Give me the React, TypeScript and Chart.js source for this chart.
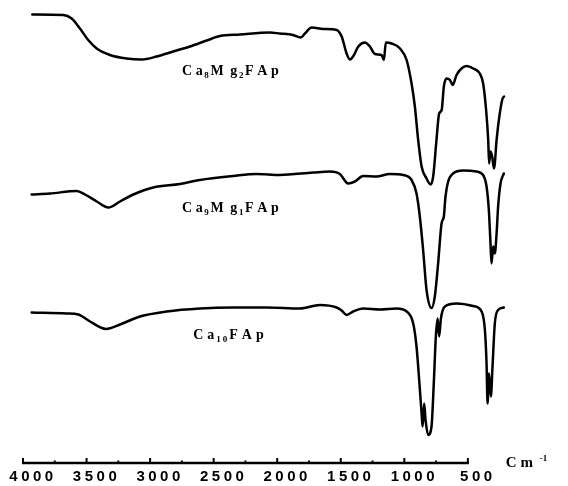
import React, { useEffect, useRef } from 'react';
import { Chart, registerables } from 'chart.js';

Chart.register(...registerables);

// x axis (wavenumber, cm-1)
const majorTicks = [4000, 3500, 3000, 2500, 2000, 1500, 1000, 500];
const tickLabels = ['4000', '3500', '3000', '2500', '2000', '1500', '1000', '500'];
const minorTicks = [3750, 3250, 2750, 2250, 1750, 1250, 750];

// Ca8Mg2FAp (top spectrum)
const mg2Wavenumber = [3927, 3683, 3617, 3552, 3487, 3420, 3316, 3185, 3066, 2948, 2818, 2687, 2555, 2451, 2294, 2057, 1979, 1876, 1815, 1782, 1729, 1638, 1533, 1493, 1454, 1428, 1403, 1362, 1310, 1271, 1231, 1179, 1161, 1145, 1100, 1034, 982, 943, 917, 891, 864, 825, 794, 773, 747, 726, 706, 689, 667, 641, 620, 589, 550, 510, 458, 406, 380, 359, 340, 333, 322, 309, 294, 274, 249, 227, 215];
const mg2Trans = [89.3, 89.2, 88.5, 86.5, 84.2, 82.5, 81.2, 80.5, 80.3, 80.9, 81.9, 82.9, 84.1, 85.0, 85.3, 85.7, 85.5, 85.2, 84.7, 85.5, 86.7, 86.4, 86.2, 84.9, 81.5, 80.3, 80.9, 82.9, 83.7, 82.9, 81.4, 81.2, 80.2, 83.7, 83.5, 82.5, 80.2, 75.5, 70.9, 64.2, 58.9, 56.5, 55.3, 56.9, 64.2, 69.5, 70.2, 74.9, 76.5, 76.2, 75.2, 77.2, 78.5, 79.0, 78.5, 77.5, 75.5, 70.9, 64.2, 59.5, 61.9, 60.9, 58.5, 64.2, 69.5, 72.5, 72.9];

// Ca9Mg1FAp (middle spectrum)
const mg1Wavenumber = [3932, 3788, 3578, 3512, 3420, 3329, 3237, 3132, 2975, 2765, 2608, 2346, 2162, 1979, 1717, 1585, 1507, 1442, 1389, 1324, 1218, 1114, 1009, 943, 904, 878, 852, 825, 786, 760, 734, 707, 689, 676, 655, 616, 537, 432, 380, 353, 335, 322, 314, 301, 288, 274, 262, 243, 217];
const mg1Trans = [53.3, 53.5, 54.0, 53.3, 51.9, 50.7, 51.9, 53.3, 54.7, 55.4, 56.2, 57.0, 57.4, 57.2, 57.7, 57.9, 57.4, 55.5, 55.9, 57.0, 56.9, 57.4, 57.2, 56.2, 53.5, 48.9, 42.2, 34.2, 30.6, 32.9, 39.5, 47.5, 48.9, 52.9, 55.9, 57.5, 58.1, 57.9, 57.2, 54.9, 50.2, 43.5, 39.5, 42.9, 41.5, 45.5, 50.9, 55.5, 57.5];

// Ca10FAp (bottom spectrum)
const ca10Wavenumber = [3932, 3656, 3565, 3473, 3347, 3237, 3080, 2870, 2608, 2346, 2083, 1821, 1664, 1533, 1493, 1454, 1402, 1324, 1192, 1061, 982, 930, 904, 883, 864, 856, 844, 833, 812, 786, 767, 752, 738, 726, 712, 681, 589, 458, 392, 366, 353, 345, 333, 319, 306, 288, 262, 217];
const ca10Trans = [29.7, 29.5, 29.3, 27.9, 26.4, 27.3, 28.9, 29.9, 30.5, 30.7, 30.7, 30.5, 31.2, 30.7, 30.1, 29.2, 29.9, 30.5, 30.3, 30.5, 29.9, 27.5, 22.9, 16.2, 9.5, 6.9, 11.5, 8.2, 5.2, 6.9, 16.2, 24.9, 28.5, 24.9, 28.5, 30.9, 31.5, 31.0, 29.9, 26.2, 19.5, 11.5, 17.5, 12.9, 18.9, 27.5, 30.2, 30.7];

// sample labels: [text, isSubscript, extra gap after]
const mg2Label: [string, boolean, number][] = [['C', false, 2], ['a', false, 0], ['8', true, 0], ['M', false, 0], [' ', false, 0], ['g', false, 0], ['2', true, 0], ['F', false, 2], ['A', false, 2], ['p', false, 0]];
const mg1Label: [string, boolean, number][] = [['C', false, 2], ['a', false, 0], ['9', true, 0], ['M', false, 0], [' ', false, 0], ['g', false, 0], ['1', true, 0], ['F', false, 2], ['A', false, 2], ['p', false, 0]];
const ca10Label: [string, boolean, number][] = [['C', false, 2], ['a', false, 0], ['1', true, 0], ['0', true, 0], ['F', false, 2], ['A', false, 2], ['p', false, 0]];
const labelAnchorX = [2749, 2749, 2661];
const labelAnchorY = [77.2, 49.9, 24.4];

const serif = '"Liberation Serif", "Times New Roman", serif';

function drawFormula(ctx: CanvasRenderingContext2D, parts: [string, boolean, number][], x: number, y: number, spacing: number) {
  let cx = x;
  for (const [t, sub, extra] of parts) {
    ctx.font = sub ? `bold 9px ${serif}` : `bold 14px ${serif}`;
    ctx.fillText(t, cx, sub ? y + 3 : y);
    cx += ctx.measureText(t).width + spacing + extra;
  }
}

const decorations = {
  id: 'ftirDecorations',
  beforeDraw(chart: any) {
    chart.ctx.letterSpacing = '3.5px';
  },
  beforeDatasetsDraw(chart: any) {
    chart.ctx.letterSpacing = '0px';
  },
  afterDraw(chart: any) {
    const ctx: CanvasRenderingContext2D = chart.ctx;
    const xs = chart.scales.x;
    const ys = chart.scales.y;
    const bottom = chart.chartArea.bottom;
    const axisStart = xs.getPixelForValue(majorTicks[0]);
    const axisEnd = xs.getPixelForValue(majorTicks[majorTicks.length - 1]);
    ctx.save();
    ctx.letterSpacing = '0px';
    ctx.strokeStyle = '#000';
    ctx.lineCap = 'butt';
    ctx.lineWidth = 2.5;
    ctx.beginPath();
    ctx.moveTo(axisStart - 1, bottom);
    ctx.lineTo(axisEnd + 1, bottom);
    ctx.stroke();
    ctx.lineWidth = 2;
    for (const v of majorTicks) {
      const px = xs.getPixelForValue(v);
      ctx.beginPath();
      ctx.moveTo(px, bottom);
      ctx.lineTo(px, bottom - 5);
      ctx.stroke();
    }
    for (const v of minorTicks) {
      const px = xs.getPixelForValue(v);
      ctx.beginPath();
      ctx.moveTo(px, bottom);
      ctx.lineTo(px, bottom - 2.5);
      ctx.stroke();
    }
    ctx.fillStyle = '#000';
    ctx.textBaseline = 'alphabetic';
    ctx.textAlign = 'left';
    const labels = [mg2Label, mg1Label, ca10Label];
    const spacings = [1.6, 1.6, 2.0];
    labels.forEach((parts, i) => {
      drawFormula(ctx, parts, xs.getPixelForValue(labelAnchorX[i]), ys.getPixelForValue(labelAnchorY[i]), spacings[i]);
    });
    // unit label
    ctx.font = `bold 15px ${serif}`;
    ctx.fillText('C m', axisEnd + 38, bottom + 4);
    ctx.font = `bold 9px ${serif}`;
    ctx.fillText('-1', axisEnd + 72, bottom - 2);
    ctx.restore();
  },
};

export default function App() {
  const canvasRef = useRef<HTMLCanvasElement | null>(null);

  useEffect(() => {
    const canvas = canvasRef.current;
    if (!canvas) return;
    const mk = (xsArr: number[], ysArr: number[]) => xsArr.map((x, i) => ({ x, y: ysArr[i] }));
    const lineStyle = {
      borderColor: '#000',
      borderWidth: 2.5,
      pointRadius: 0,
      fill: false,
      cubicInterpolationMode: 'monotone' as const,
      borderJoinStyle: 'round' as const,
      borderCapStyle: 'round' as const,
    };
    const chart = new Chart(canvas, {
      type: 'line',
      data: {
        datasets: [
          { label: 'Ca8Mg2FAp', data: mk(mg2Wavenumber, mg2Trans), ...lineStyle },
          { label: 'Ca9Mg1FAp', data: mk(mg1Wavenumber, mg1Trans), ...lineStyle },
          { label: 'Ca10FAp', data: mk(ca10Wavenumber, ca10Trans), ...lineStyle },
        ],
      },
      options: {
        animation: false,
        responsive: true,
        maintainAspectRatio: false,
        devicePixelRatio: 1,
        layout: { padding: { left: 23, right: 62, top: 1, bottom: -5 } },
        plugins: { legend: { display: false }, tooltip: { enabled: false } },
        scales: {
          x: {
            type: 'linear',
            reverse: true,
            min: 200,
            max: 4000,
            afterBuildTicks: (scale: any) => {
              scale.ticks = majorTicks.map((v) => ({ value: v }));
            },
            grid: { display: false, drawTicks: false },
            border: { display: false },
            ticks: {
              autoSkip: false,
              maxRotation: 0,
              padding: 5,
              labelOffset: 10,
              color: '#000',
              font: { family: '"Liberation Sans", Arial, sans-serif', size: 15, weight: 'bold', lineHeight: 1.2 },
              callback: (value: any) => {
                const idx = majorTicks.indexOf(Number(value));
                return idx >= 0 ? tickLabels[idx] : '';
              },
            },
          },
          y: { type: 'linear', min: -0.4, max: 92, display: false },
        },
      },
      plugins: [decorations],
    });
    return () => chart.destroy();
  }, []);

  return (
    <div style={{ position: 'absolute', left: 0, top: 0, width: 568, height: 486, background: '#fff' }}>
      <canvas ref={canvasRef} />
    </div>
  );
}
